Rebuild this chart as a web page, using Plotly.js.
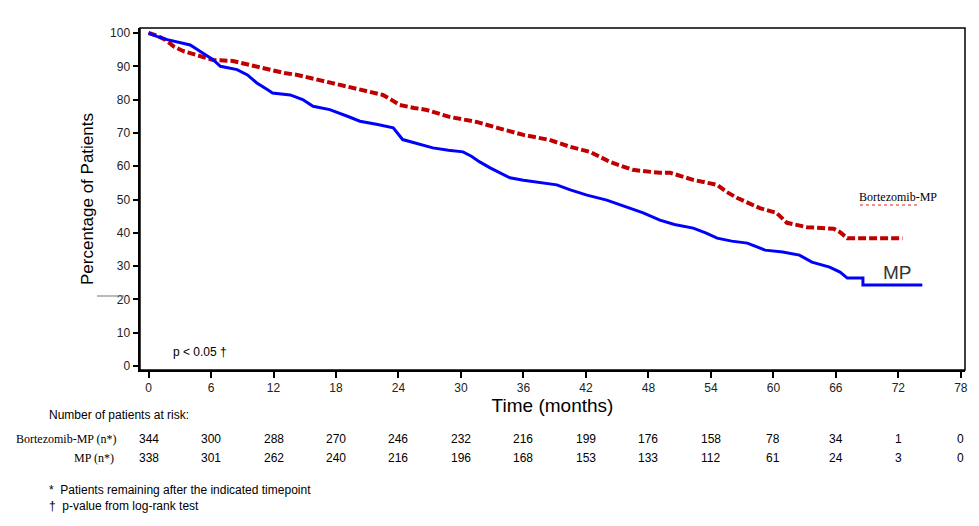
<!DOCTYPE html>
<html>
<head>
<meta charset="utf-8">
<script src="https://cdn.plot.ly/plotly-3.0.1.min.js"></script>
<style>html,body{margin:0;padding:0;background:#fff;}#chart{width:979px;height:526px;}</style>
</head>
<body>
<div id="chart"></div>
<script>
// Kaplan-Meier curves (months, % of patients)
const mpTime = [0, 0.8, 1.8, 3.0, 4.0, 5.2, 6.2, 6.9, 8.5, 9.5, 10.4, 11.4, 11.9, 13.6, 14.8, 15.8, 17.4, 19.1, 20.3, 22.0, 23.5, 24.4, 26.0, 27.3, 28.8, 30.2, 31.0, 31.8, 32.8, 33.8, 34.7, 36.0, 37.3, 39.2, 40.5, 42.1, 44.0, 45.9, 47.5, 49.1, 50.5, 52.3, 53.5, 54.6, 56.0, 57.5, 59.2, 60.9, 62.5, 63.7, 65.4, 66.4, 67.1, 68.6, 68.6, 74.3];
const mpSurv = [100, 99, 98, 97.2, 96.4, 94, 92, 90, 89, 87.4, 85, 83, 82, 81.4, 80, 78, 77, 75, 73.5, 72.5, 71.5, 68, 66.5, 65.5, 64.8, 64.3, 63, 61.3, 59.5, 58, 56.5, 55.8, 55.3, 54.4, 52.9, 51.3, 49.8, 47.7, 46, 43.8, 42.5, 41.4, 40, 38.4, 37.5, 36.9, 34.8, 34.2, 33.3, 31.2, 29.7, 28.2, 26.4, 26.4, 24.3, 24.3];
const vmpTime = [0, 0.8, 1.6, 2.4, 3.3, 4.7, 6.2, 8.1, 9.7, 11.0, 11.9, 13.0, 14.3, 15.5, 16.5, 18.4, 20.3, 21.5, 22.5, 23.3, 24.1, 25.5, 26.7, 28.9, 30.2, 31.5, 33.5, 36.0, 38.5, 40.5, 42.4, 44.3, 46.5, 49.1, 50.1, 52.3, 54.6, 55.5, 56.5, 57.5, 58.7, 60.3, 61.3, 63.2, 65.8, 66.4, 67.1, 72.4];
const vmpSurv = [100, 99.2, 98, 96, 94.6, 93.4, 91.9, 91.6, 90.4, 89.5, 88.9, 88, 87.4, 86.5, 85.9, 84.4, 82.9, 82, 81.4, 80, 78.4, 77.5, 76.9, 74.8, 74, 73.3, 71.5, 69.4, 67.9, 65.8, 64.3, 61.3, 58.9, 58, 58, 55.9, 54.4, 52.3, 50.5, 49.2, 47.4, 46, 43, 41.7, 41.2, 40.2, 38.4, 38.4];

// Number at risk table
const riskTimes = [0, 6, 12, 18, 24, 30, 36, 42, 48, 54, 60, 66, 72, 78];
const riskVmp = [344, 300, 288, 270, 246, 232, 216, 199, 176, 158, 78, 34, 1, 0];
const riskMp = [338, 301, 262, 240, 216, 196, 168, 153, 133, 112, 61, 24, 3, 0];
const rowLabels = ["Bortezomib-MP (n*)", "MP (n*)"];

const sans = "Liberation Sans, Arial, sans-serif";
const serif = "Liberation Serif, Times New Roman, serif";

const traces = [
  {x: vmpTime, y: vmpSurv, mode: 'lines', line: {shape: 'linear', color: '#C00000', width: 4, dash: '8px,3px'}, hoverinfo: 'skip', name: 'Bortezomib-MP'},
  {x: mpTime, y: mpSurv, mode: 'lines', line: {shape: 'linear', color: '#0000FF', width: 3}, hoverinfo: 'skip', name: 'MP'}
];

// helpers: pixel position -> paper fraction (plot box 140..965 x 28..370)
const px = v => (v - 140) / 825;
const py = v => (370 - v) / 342;

const annotations = [];
annotations.push({xref: 'paper', yref: 'paper', x: px(898), y: py(197), text: 'Bortezomib-MP', showarrow: false, font: {family: serif, size: 12, color: '#000'}, xanchor: 'center', yanchor: 'middle'});
annotations.push({xref: 'paper', yref: 'paper', x: px(897), y: py(272), text: 'MP', showarrow: false, font: {family: sans, size: 19, color: '#333'}, xanchor: 'center', yanchor: 'middle'});
annotations.push({xref: 'paper', yref: 'paper', x: px(171), y: py(352), text: 'p < 0.05 †', showarrow: false, font: {family: sans, size: 12, color: '#000'}, xanchor: 'left', yanchor: 'middle'});

annotations.push({xref: 'paper', yref: 'paper', x: px(47), y: py(415), text: 'Number of patients at risk:', showarrow: false, font: {family: sans, size: 12, color: '#000'}, xanchor: 'left', yanchor: 'middle'});
annotations.push({xref: 'paper', yref: 'paper', x: px(119), y: py(439), text: rowLabels[0], showarrow: false, font: {family: serif, size: 12, color: '#000'}, xanchor: 'right', yanchor: 'middle'});
annotations.push({xref: 'paper', yref: 'paper', x: px(116), y: py(458), text: rowLabels[1], showarrow: false, font: {family: serif, size: 12, color: '#000'}, xanchor: 'right', yanchor: 'middle'});
riskTimes.forEach((t, i) => {
  annotations.push({xref: 'x', yref: 'paper', x: t, y: py(439), text: String(riskVmp[i]), showarrow: false, font: {family: sans, size: 12, color: '#000'}, xanchor: 'center', yanchor: 'middle'});
  annotations.push({xref: 'x', yref: 'paper', x: t, y: py(458), text: String(riskMp[i]), showarrow: false, font: {family: sans, size: 12, color: '#000'}, xanchor: 'center', yanchor: 'middle'});
});
annotations.push({xref: 'paper', yref: 'paper', x: px(47), y: py(490), text: '*  Patients remaining after the indicated timepoint', showarrow: false, font: {family: sans, size: 12, color: '#000'}, xanchor: 'left', yanchor: 'middle'});
annotations.push({xref: 'paper', yref: 'paper', x: px(47), y: py(506), text: '†  p-value from log-rank test', showarrow: false, font: {family: sans, size: 12, color: '#000'}, xanchor: 'left', yanchor: 'middle'});

const layout = {
  width: 979, height: 526,
  margin: {l: 140, r: 14, t: 28, b: 156, pad: 0},
  paper_bgcolor: '#fff', plot_bgcolor: '#fff',
  showlegend: false,
  font: {family: sans, size: 12, color: '#000'},
  xaxis: {
    range: [-0.82, 78.4], tickvals: riskTimes, ticktext: riskTimes.map(String),
    ticks: 'outside', ticklen: 6, tickwidth: 2, tickcolor: '#000',
    showline: true, linecolor: '#000', linewidth: 2, showgrid: false, zeroline: false,
    tickfont: {family: sans, size: 12, color: '#222'},
    title: {text: 'Time (months)', font: {family: sans, size: 19, color: '#000'}, standoff: 2}
  },
  yaxis: {
    range: [-1.2, 101.5], tickvals: [0, 10, 20, 30, 40, 50, 60, 70, 80, 90, 100],
    ticks: 'outside', ticklen: 5, tickwidth: 2, tickcolor: '#000',
    showline: true, linecolor: '#000', linewidth: 2.5, showgrid: false, zeroline: false,
    tickfont: {family: sans, size: 12, color: '#222'},
    title: {text: 'Percentage of Patients', font: {family: sans, size: 17, color: '#000'}, standoff: 12}
  },
  shapes: [
    {type: 'rect', xref: 'paper', yref: 'paper', x0: 0, x1: 1, y0: 0, y1: 1, line: {color: '#000', width: 1.5}},
    {type: 'line', xref: 'paper', yref: 'paper', x0: px(860), x1: px(918), y0: py(205), y1: py(205), line: {color: '#E02020', width: 1, dash: 'dot'}},
    {type: 'line', xref: 'paper', yref: 'paper', x0: px(97), x1: px(124), y0: py(296), y1: py(296), line: {color: '#777', width: 1}}
  ],
  annotations: annotations
};

Plotly.newPlot('chart', traces, layout, {displayModeBar: false, staticPlot: true});
</script>
</body>
</html>
